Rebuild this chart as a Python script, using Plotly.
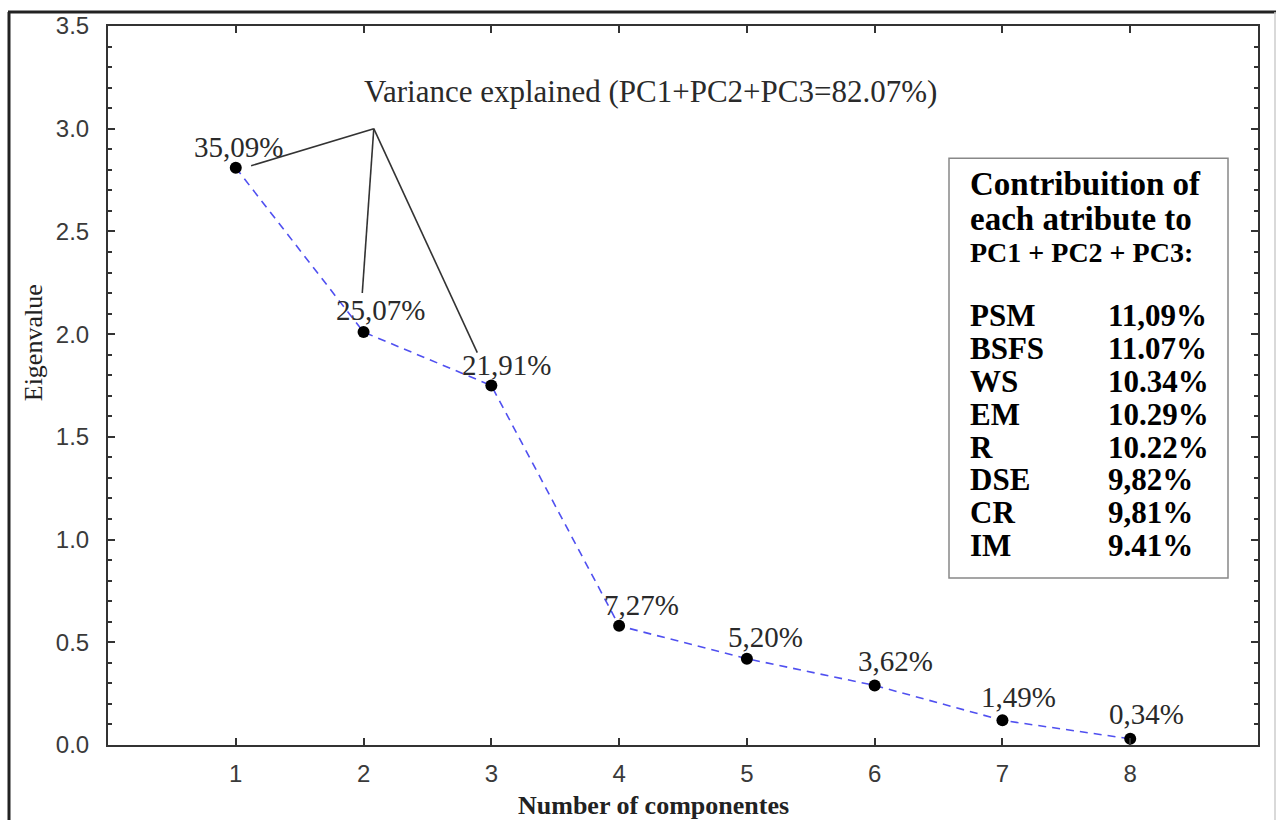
import plotly.graph_objects as go

# ---- data ----
components = [1, 2, 3, 4, 5, 6, 7, 8]
eigenvalues = [2.81, 2.01, 1.75, 0.58, 0.42, 0.29, 0.12, 0.03]
variance_labels = ["35,09%", "25,07%", "21,91%", "7,27%", "5,20%", "3,62%", "1,49%", "0,34%"]

# connector lines from the "variance explained" apex to PC1, PC2, PC3
apex = (2.08, 3.0)
connector_ends_x = [1.12, 1.99, 2.89]
connector_ends_y = [2.82, 2.20, 1.91]

attributes = ["PSM", "BSFS", "WS", "EM", "R", "DSE", "CR", "IM"]
contributions = ["11,09%", "11.07%", "10.34%", "10.29%", "10.22%", "9,82%", "9,81%", "9.41%"]

W, H = 1276, 820
ML, MR, MT, MB = 108, 18, 22, 75
PW, PH = W - ML - MR, H - MT - MB


def px2paper_x(px):
    return (px - ML) / PW


def px2paper_y(py):
    return (H - MB - py) / PH


fig = go.Figure()

# connector lines
cx, cy = [], []
for ex, ey in zip(connector_ends_x, connector_ends_y):
    cx += [apex[0], ex, None]
    cy += [apex[1], ey, None]
fig.add_trace(go.Scatter(x=cx, y=cy, mode="lines",
                         line=dict(color="#333333", width=1.6),
                         hoverinfo="skip", showlegend=False))

# scree line
fig.add_trace(go.Scatter(x=components, y=eigenvalues, mode="lines+markers",
                         line=dict(color="#5050f0", width=1.6, dash="8px,6px"),
                         marker=dict(color="black", size=12),
                         showlegend=False))

serif = "Liberation Serif, Times New Roman, serif"
sans = "Liberation Sans, Arial, sans-serif"

# percentage labels
xshifts = [3, 17, 15, 22, 19, 21, 16, 16]
yshifts = [21, 22, 21, 21, 22, 24, 23, 25]
for x, y, t, xs, ys in zip(components, eigenvalues, variance_labels, xshifts, yshifts):
    fig.add_annotation(x=x, y=y, text=t, showarrow=False, xshift=xs, yshift=ys,
                       xanchor="center", yanchor="middle",
                       font=dict(family=serif, size=29, color="#2a2a2a"))

# variance explained title
fig.add_annotation(xref="paper", yref="paper", x=px2paper_x(650), y=px2paper_y(88),
                   xanchor="center", yanchor="middle",
                   text="Variance explained (PC1+PC2+PC3=82.07%)", showarrow=False,
                   font=dict(family=serif, size=31, color="#2a2a2a"))

# contribution box
fig.add_shape(type="rect", xref="paper", yref="paper",
              x0=px2paper_x(949), x1=px2paper_x(1228),
              y0=px2paper_y(577), y1=px2paper_y(155),
              line=dict(color="#888888", width=1.5), fillcolor="white", layer="above")

head_lines = [("Contribuition of", 181, 33), ("each atribute to", 216, 33), ("PC1 + PC2 + PC3:", 250, 28)]
for t, py, fs in head_lines:
    fig.add_annotation(xref="paper", yref="paper", x=px2paper_x(968), y=px2paper_y(py),
                       xanchor="left", yanchor="middle", text="<b>" + t + "</b>", showarrow=False,
                       font=dict(family=serif, size=fs, color="black"))

row_y0, row_dy = 313, 33.1
for i, (a, c) in enumerate(zip(attributes, contributions)):
    py = row_y0 + i * row_dy
    fig.add_annotation(xref="paper", yref="paper", x=px2paper_x(968), y=px2paper_y(py),
                       xanchor="left", yanchor="middle", text="<b>" + a + "</b>", showarrow=False,
                       font=dict(family=serif, size=31, color="black"))
    fig.add_annotation(xref="paper", yref="paper", x=px2paper_x(1106), y=px2paper_y(py),
                       xanchor="left", yanchor="middle", text="<b>" + c + "</b>", showarrow=False,
                       font=dict(family=serif, size=31, color="black"))

# axis titles placed as in the reference
fig.add_annotation(xref="paper", yref="paper", x=px2paper_x(33), y=px2paper_y(341),
                   xanchor="center", yanchor="middle",
                   text="Eigenvalue", textangle=-90, showarrow=False,
                   font=dict(family=serif, size=26, color="#222222"))
fig.add_annotation(xref="paper", yref="paper", x=px2paper_x(653), y=px2paper_y(806),
                   xanchor="center", yanchor="middle",
                   text="<b>Number of componentes</b>", showarrow=False,
                   font=dict(family=serif, size=26, color="#222222"))

# outer frame of the figure
fig.add_shape(type="line", xref="paper", yref="paper",
              x0=px2paper_x(9), x1=px2paper_x(9), y0=px2paper_y(8), y1=px2paper_y(830),
              line=dict(color="#222222", width=3))
fig.add_shape(type="line", xref="paper", yref="paper",
              x0=px2paper_x(8), x1=px2paper_x(1276), y0=px2paper_y(8), y1=px2paper_y(8),
              line=dict(color="#222222", width=3))
fig.add_shape(type="line", xref="paper", yref="paper",
              x0=px2paper_x(1275), x1=px2paper_x(1275), y0=px2paper_y(8), y1=px2paper_y(830),
              line=dict(color="#cccccc", width=1.5))

fig.update_layout(
    width=W, height=H, autosize=False,
    margin=dict(l=ML, r=MR, t=MT, b=MB),
    plot_bgcolor="white", paper_bgcolor="white",
    showlegend=False,
    xaxis=dict(range=[0, 9], tickvals=components, ticktext=[str(c) for c in components],
               showgrid=False, zeroline=False, showline=True, mirror="ticks",
               linecolor="#333333", linewidth=2, ticks="inside", ticklen=7, tickwidth=1.5,
               tickcolor="#333333", ticklabelstandoff=6,
               tickfont=dict(family=sans, size=24, color="#3a3a3a")),
    yaxis=dict(range=[0, 3.5], dtick=0.5, tickformat=".1f",
               showgrid=False, zeroline=False, showline=True, mirror="ticks",
               linecolor="#333333", linewidth=2, ticks="inside", ticklen=7, tickwidth=1.5,
               tickcolor="#333333", ticklabelstandoff=12,
               minor=dict(dtick=0.1, ticks="inside", ticklen=4, tickcolor="#333333", showgrid=False),
               tickfont=dict(family=sans, size=24, color="#3a3a3a")),
)

fig.write_html("out.html", config={"displayModeBar": False},
               post_script="document.body.style.margin='0';document.body.style.overflow='hidden';")
